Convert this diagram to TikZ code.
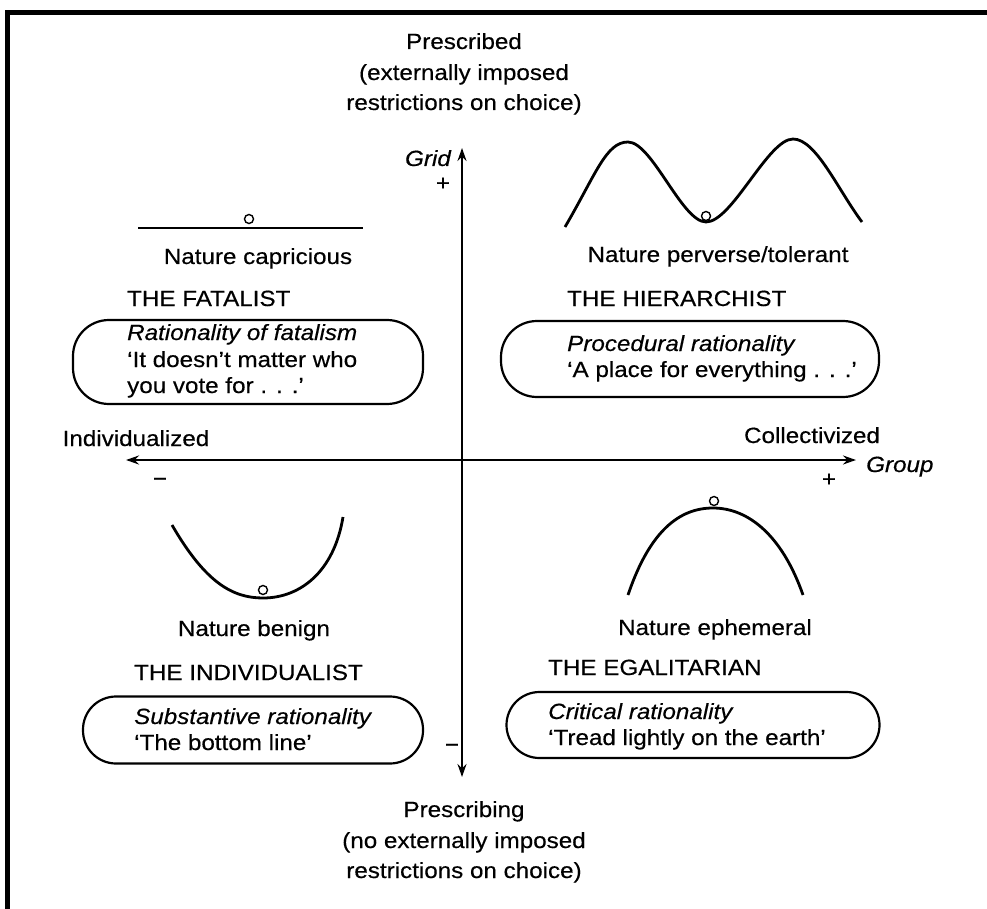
\documentclass[tikz,border=0pt]{standalone}
\usepackage{fontspec}
\setmainfont{Liberation Sans}[FakeStretch=1.1,FakeBold=0.4]
\usetikzlibrary{arrows.meta}
\begin{document}
\begin{tikzpicture}[x=1pt,y=-1pt,
  every node/.style={inner sep=0pt, font=\fontsize{22}{28}\selectfont},
  lbl/.style={anchor=base},
  lft/.style={anchor=base west},
  itl/.style={font=\fontsize{22}{28}\selectfont\itshape},
  axis/.style={line width=2.5pt, {Stealth[length=13pt,width=9pt]}-{Stealth[length=13pt,width=9pt]}},
  curve/.style={line width=2.8pt},
  ball/.style={circle, draw, line width=1.4pt, fill=white, minimum size=9pt, inner sep=0pt},
  tbox/.style={draw, line width=2.2pt, rounded corners=36pt},
]
\useasboundingbox (0,0) rectangle (987,909);
% frame
\fill (5,10) rectangle (987,15);
\fill (5,10) rectangle (10,909);

% axes
\coordinate (gtop) at (462,148);
\coordinate (gbot) at (462,777);
\coordinate (xl) at (126,460);
\coordinate (xr) at (856,460);
\draw[axis] (gbot) -- (gtop);
\draw[axis] (xl) -- (xr);

% axis labels
\node[lbl] (pr1) at (464,49) {Prescribed};
\node[lbl] (pr2) at (464,80) {(externally imposed};
\node[lbl] (pr3) at (464,110) {restrictions on choice)};
\node[lbl] (pb1) at (464,817) {Prescribing};
\node[lbl] (pb2) at (464,848) {(no externally imposed};
\node[lbl] (pb3) at (464,878) {restrictions on choice)};
\node[itl, anchor=base east] (grid) at (451,166) {Grid};
\node (gplus) at (443,184) {+};
\node (gminus) at (452,748) {\char"2212};
\node[lbl] (indiv) at (136,446) {Individualized};
\node[lbl] (coll) at (812,443) {Collectivized};
\node[itl, anchor=base west] (group) at (866,472) {Group};
\node (xminus) at (160,482) {\char"2212};
\node (xplus) at (829,480) {+};

% Fatalist
\draw[curve] (138,228) -- (363,228);
\node[ball] (b1) at (249,219) {};
\node[lbl] (n1) at (258,264) {Nature capricious};
\node[lft] (t1) at (127,306) {THE FATALIST};
\node[tbox, minimum width=350pt, minimum height=84pt] (box1) at (248,362) {};
\node[itl, anchor=base west] (r1) at (127,340) {Rationality of fatalism};
\node[lft] (q1a) at (127,367) {‘It doesn’t matter who};
\node[lft] (q1b) at (127,393) {you vote for . . .’};

% Hierarchist
\draw[curve] (565,227) .. controls (596,174) and (606,142) .. (628,142)
  .. controls (652,142) and (682,222) .. (706,222)
  .. controls (732,222) and (768,139) .. (793,139)
  .. controls (816,139) and (838,190) .. (862,222);
\node[ball] (b2) at (706,216) {};
\node[lbl] (n2) at (718,262) {Nature perverse/tolerant};
\node[lft] (t2) at (567,306) {THE HIERARCHIST};
\node[tbox, minimum width=378pt, minimum height=76pt] (box2) at (690,359) {};
\node[itl, anchor=base west] (r2) at (567,351) {Procedural rationality};
\node[lft] (q2) at (567,377) {‘A place for everything . . .’};

% Individualist
\draw[curve] (172,525) .. controls (205,582) and (232,598) .. (263,598)
  .. controls (300,598) and (334,572) .. (343,517);
\node[ball] (b3) at (263,590) {};
\node[lbl] (n3) at (254,636) {Nature benign};
\node[lft] (t3) at (134,680) {THE INDIVIDUALIST};
\node[tbox, minimum width=340pt, minimum height=67pt, rounded corners=33pt] (box3) at (253,730) {};
\node[itl, anchor=base west] (r3) at (134,724) {Substantive rationality};
\node[lft] (q3) at (134,750) {‘The bottom line’};

% Egalitarian
\draw[curve] (628,595) .. controls (650,530) and (680,508) .. (713,508)
  .. controls (748,508) and (782,535) .. (803,595);
\node[ball] (b4) at (714,501) {};
\node[lbl] (n4) at (715,635) {Nature ephemeral};
\node[lft] (t4) at (548,675) {THE EGALITARIAN};
\node[tbox, minimum width=373pt, minimum height=66pt, rounded corners=33pt] (box4) at (693,725) {};
\node[itl, anchor=base west] (r4) at (548,719) {Critical rationality};
\node[lft] (q4) at (548,745) {‘Tread lightly on the earth’};
\end{tikzpicture}
\end{document}
